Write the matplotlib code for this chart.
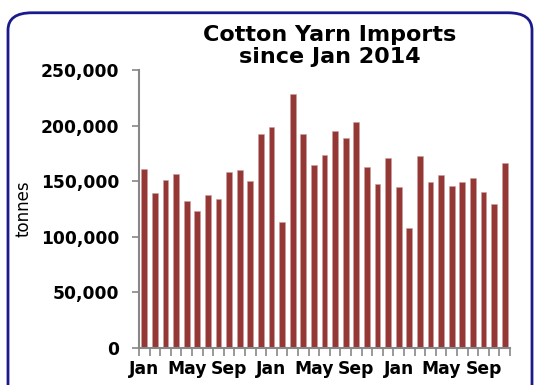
import numpy as np
import matplotlib
matplotlib.use("Agg")
import matplotlib.pyplot as plt
from matplotlib.patches import FancyBboxPatch
from matplotlib.ticker import FuncFormatter

# monthly imports, Jan 2014 .. Nov 2016 (tonnes)
imports = [160700, 139000, 151000, 156700, 132000, 123600, 138000, 134000, 158000, 159800, 150000, 192000,
           198800, 113500, 228000, 192600, 165000, 174000, 195000, 188700, 203000, 163000, 147500, 170900,
           144500, 108000, 172400, 149700, 156000, 145700, 149000, 153000, 140000, 129400, 166000]
months = ["Jan", "Feb", "Mar", "Apr", "May", "Jun", "Jul", "Aug", "Sep", "Oct", "Nov", "Dec"]
labels = [months[i % 12] for i in range(len(imports))]

fig = plt.figure(figsize=(5.35, 3.85), dpi=100)
fig.patch.set_facecolor("white")

# rounded frame around the chart
frame = FancyBboxPatch((8 / 535, -0.05), 524 / 535, (385 - 12) / 385 + 0.05 - 0.002,
                       boxstyle="round,pad=0,rounding_size=0.045", transform=fig.transFigure,
                       facecolor="none", edgecolor="#1a1a8c", linewidth=2, clip_on=False)
fig.patches.append(frame)

ax = fig.add_axes([139 / 535, 1 - 348 / 385, (510 - 139) / 535, (348 - 70) / 385])
x = np.arange(len(imports))
ax.bar(x, imports, width=0.55, color="#953735", edgecolor="#c9a0a0", linewidth=0.4)

ax.set_ylim(0, 250000)
ax.set_xlim(-0.5, len(imports) - 0.5)
ax.set_yticks(np.arange(0, 250001, 50000))
ax.yaxis.set_major_formatter(FuncFormatter(lambda v, p: f"{int(v):,}"))

ax.set_xticks(x[::4])
ax.set_xticklabels(labels[::4])
ax.set_xticks(np.arange(-0.5, len(imports)), minor=True)
ax.tick_params(axis="x", which="major", length=0, pad=9)
ax.tick_params(axis="x", which="minor", length=6, color="#888888", width=1.2, direction="out")
ax.tick_params(axis="y", length=5, color="#888888", width=1.2, pad=9)
for lab in ax.get_xticklabels() + ax.get_yticklabels():
    lab.set_fontsize(12.3)
    lab.set_fontweight("bold")
    lab.set_fontfamily("DejaVu Sans")

for s in ["top", "right"]:
    ax.spines[s].set_visible(False)
for s in ["left", "bottom"]:
    ax.spines[s].set_color("#888888")
    ax.spines[s].set_linewidth(1.5)

ax.set_ylabel("tonnes", fontsize=12, fontfamily="DejaVu Sans")
ax.yaxis.set_label_coords(-0.286, 0.5)

fig.text(330 / 535, 1 - 46 / 385, "Cotton Yarn Imports\nsince Jan 2014", ha="center", va="center",
         fontsize=16, fontweight="heavy", fontfamily="DejaVu Sans", linespacing=1.15)

fig.savefig("out.png", dpi=100)
